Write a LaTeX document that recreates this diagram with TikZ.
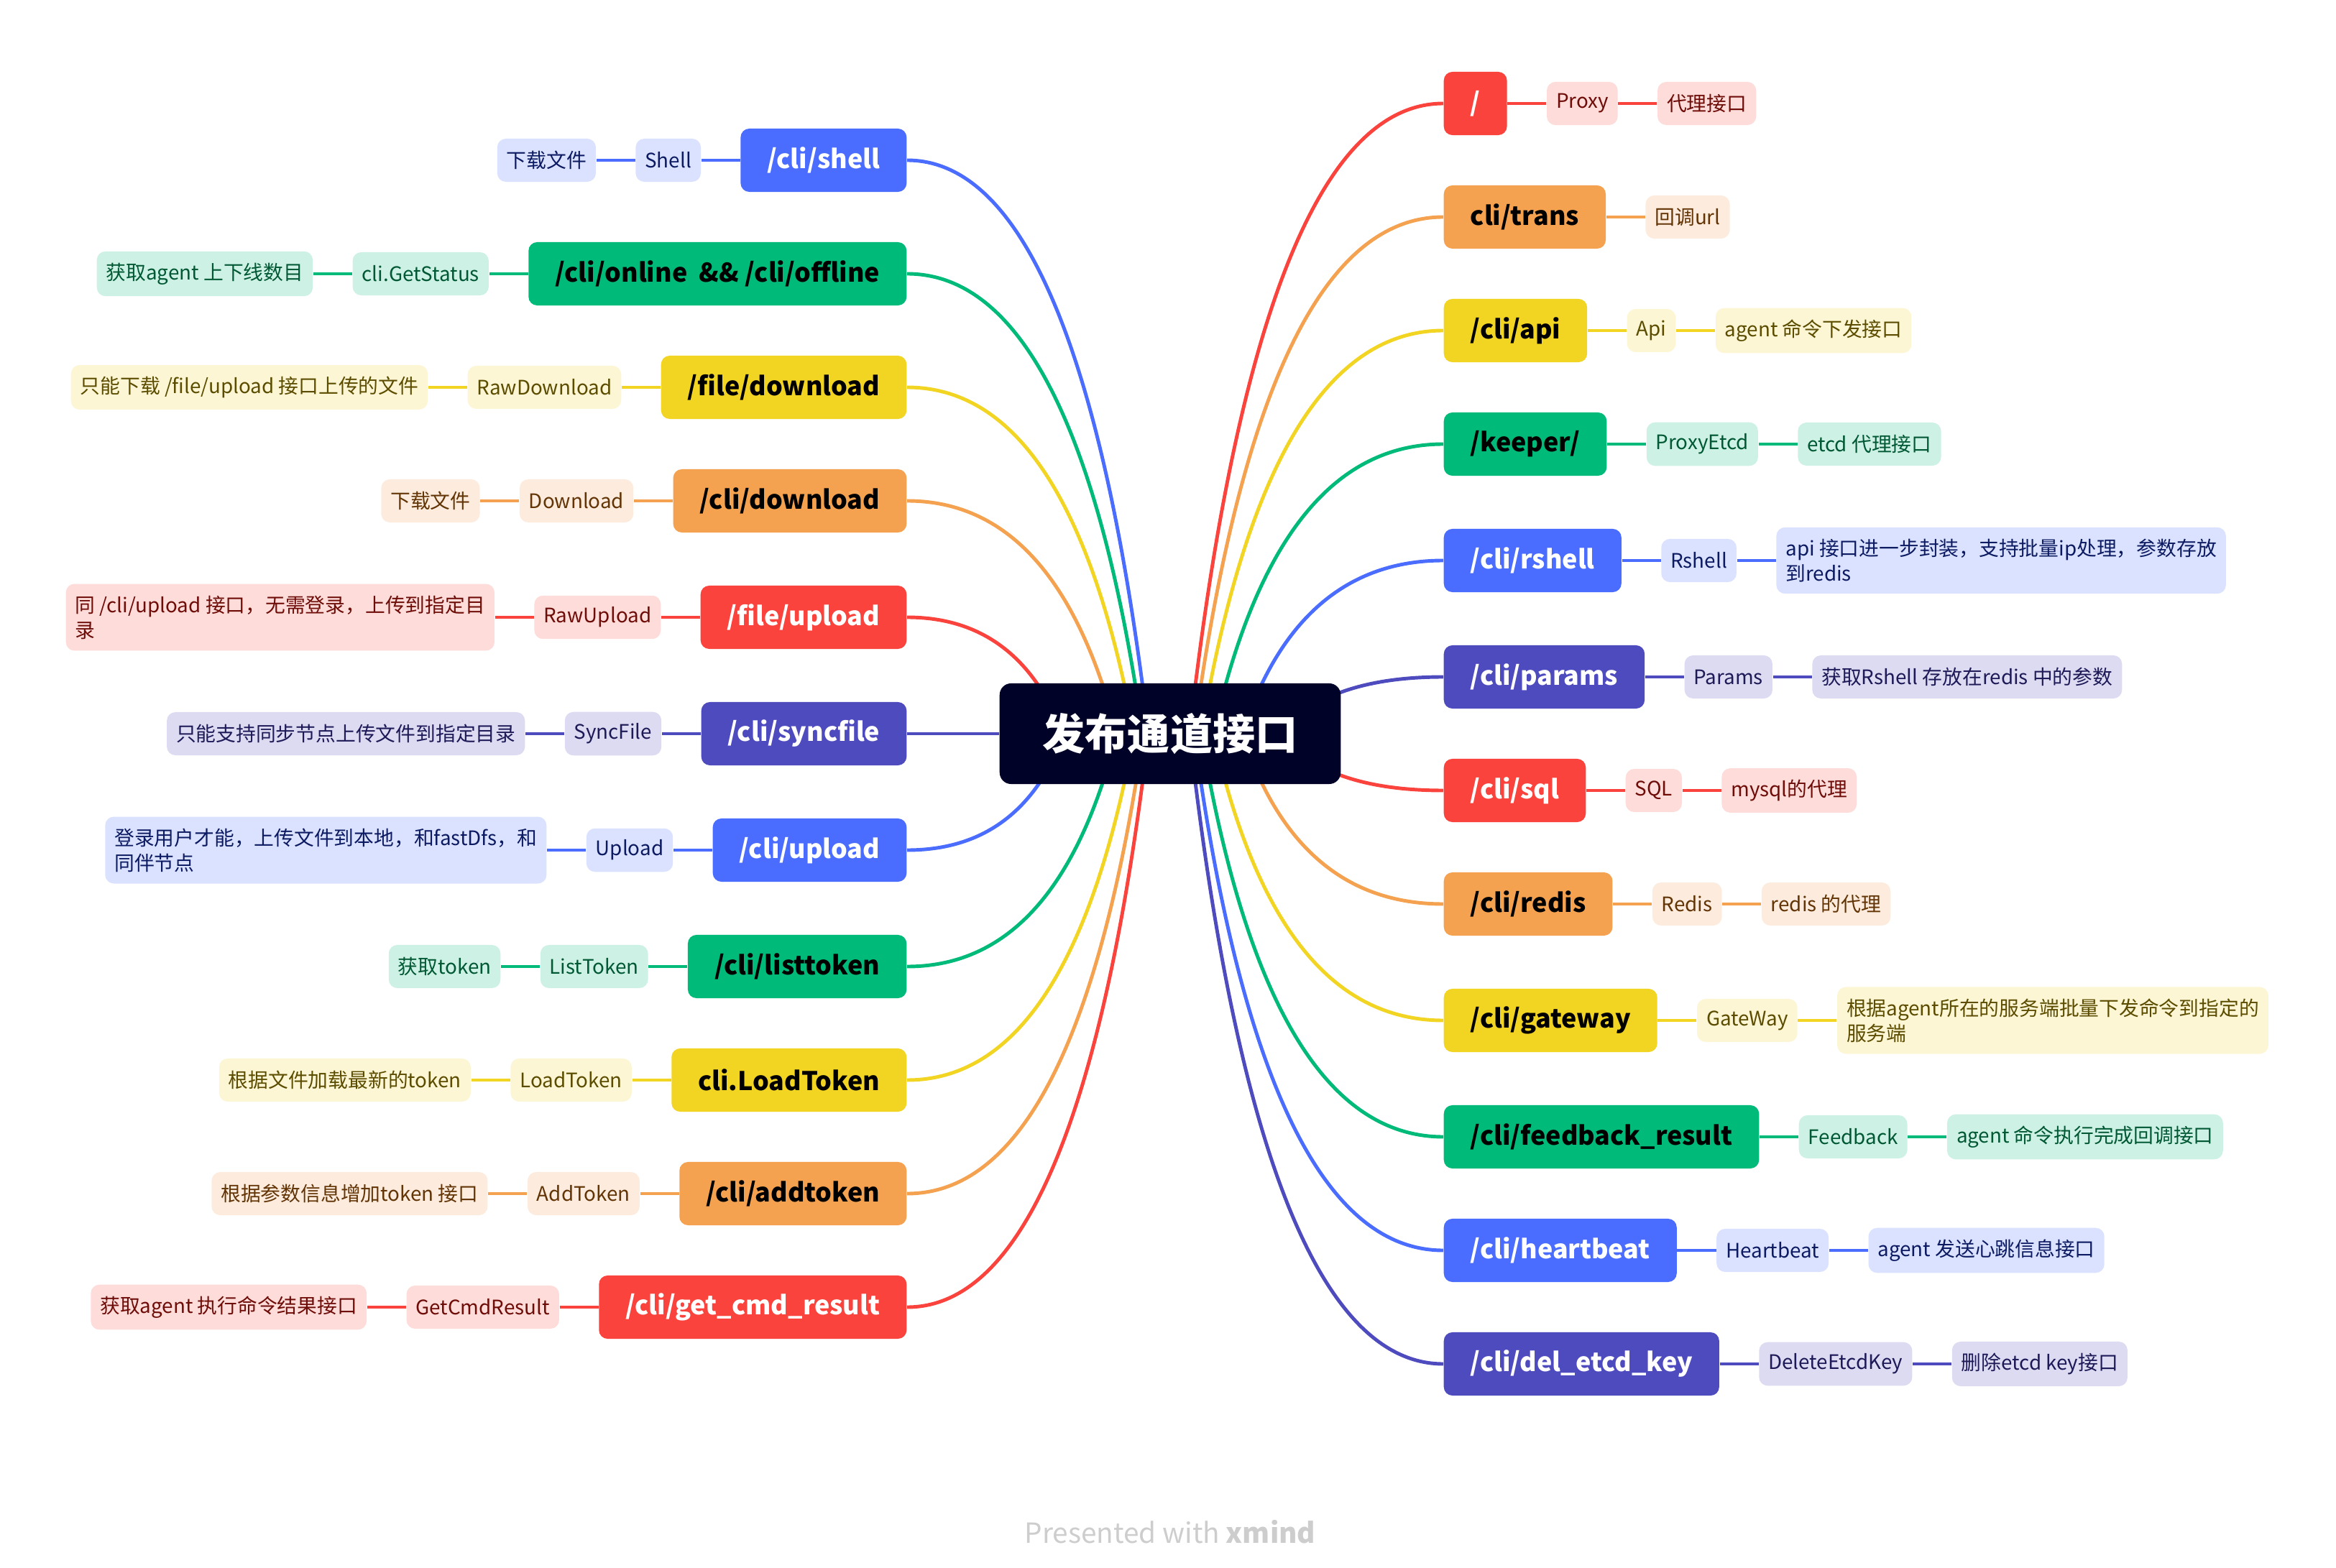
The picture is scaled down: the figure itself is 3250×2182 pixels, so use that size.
\documentclass[tikz,border=0pt]{standalone}
\usepackage{fontspec}
\setmainfont{Noto Sans CJK SC}
\usetikzlibrary{positioning,calc,backgrounds}
\definecolor{rootc}{RGB}{0,2,40}
\definecolor{cRed}{RGB}{250,67,60}
\definecolor{cRedL}{RGB}{253,220,218}
\definecolor{cRedT}{RGB}{110,12,8}
\definecolor{cOrange}{RGB}{245,162,80}
\definecolor{cOrangeL}{RGB}{253,236,221}
\definecolor{cOrangeT}{RGB}{98,52,6}
\definecolor{cYellow}{RGB}{242,212,35}
\definecolor{cYellowL}{RGB}{252,246,212}
\definecolor{cYellowT}{RGB}{92,76,0}
\definecolor{cGreen}{RGB}{0,186,122}
\definecolor{cGreenL}{RGB}{205,241,228}
\definecolor{cGreenT}{RGB}{0,88,52}
\definecolor{cBlue}{RGB}{74,108,255}
\definecolor{cBlueL}{RGB}{219,226,255}
\definecolor{cBlueT}{RGB}{12,26,98}
\definecolor{cIndigo}{RGB}{78,75,190}
\definecolor{cIndigoL}{RGB}{221,219,242}
\definecolor{cIndigoT}{RGB}{30,26,88}
\definecolor{footc}{RGB}{205,205,205}

\begin{document}
\begin{tikzpicture}[x=0.01cm, y=-0.01cm,
    root/.style={fill=rootc, text=white, rounded corners=0.16cm, minimum height=1.4cm, inner xsep=0.6cm, font=\fontsize{16.8}{20}\selectfont\bfseries},
    topic/.style={rounded corners=0.12cm, minimum height=0.88cm, inner xsep=0.37cm, font=\fontsize{10.2}{13}\selectfont\bfseries},
    topicL/.style={topic, anchor=east},
    topicR/.style={topic, anchor=west},
    leaf/.style={rounded corners=0.12cm, minimum height=0.6cm, inner xsep=0.13cm, inner ysep=0.16cm, align=left, font=\fontsize{7.9}{10}\selectfont},
    tRed/.style={fill=cRed, text=white},
    tOrange/.style={fill=cOrange, text=black},
    tYellow/.style={fill=cYellow, text=black},
    tGreen/.style={fill=cGreen, text=black},
    tBlue/.style={fill=cBlue, text=white},
    tIndigo/.style={fill=cIndigo, text=white},
    lRed/.style={leaf, fill=cRedL, text=cRedT},
    lOrange/.style={leaf, fill=cOrangeL, text=cOrangeT},
    lYellow/.style={leaf, fill=cYellowL, text=cYellowT},
    lGreen/.style={leaf, fill=cGreenL, text=cGreenT},
    lBlue/.style={leaf, fill=cBlueL, text=cBlueT},
    lIndigo/.style={leaf, fill=cIndigoL, text=cIndigoT},
    branch/.style={line width=1.4pt},
    twig/.style={line width=1.1pt}]

    \useasboundingbox (0,0) rectangle (3250,2182);

    % central topic
    \node[root] (root) at (1628,1021) {发布通道接口};

    % left side
    \node[topicL, tBlue] (shell) at (1262,223) {/cli/shell};
    \node[topicL, tGreen] (online) at (1262,381) {/cli/online\ \ \&\& /cli/offline};
    \node[topicL, tYellow] (fdown) at (1262,539) {/file/download};
    \node[topicL, tOrange] (cdown) at (1262,697) {/cli/download};
    \node[topicL, tRed] (fup) at (1262,859) {/file/upload};
    \node[topicL, tIndigo] (sync) at (1262,1021) {/cli/syncfile};
    \node[topicL, tBlue] (upload) at (1262,1183) {/cli/upload};
    \node[topicL, tGreen] (listtok) at (1262,1345) {/cli/listtoken};
    \node[topicL, tYellow] (loadtok) at (1262,1503) {cli.LoadToken};
    \node[topicL, tOrange] (addtok) at (1262,1661) {/cli/addtoken};
    \node[topicL, tRed] (getcmd) at (1262,1819) {/cli/get\_cmd\_result};

    \node[lBlue, left=0.54cm of shell] (shellK) {Shell};
    \node[lBlue, left=0.54cm of shellK] (shellD) {下载文件};
    \node[lGreen, left=0.54cm of online] (onlineK) {cli.GetStatus};
    \node[lGreen, left=0.54cm of onlineK] (onlineD) {获取agent 上下线数目};
    \node[lYellow, left=0.54cm of fdown] (fdownK) {RawDownload};
    \node[lYellow, left=0.54cm of fdownK] (fdownD) {只能下载 /file/upload 接口上传的文件};
    \node[lOrange, left=0.54cm of cdown] (cdownK) {Download};
    \node[lOrange, left=0.54cm of cdownK] (cdownD) {下载文件};
    \node[lRed, left=0.54cm of fup] (fupK) {RawUpload};
    \node[lRed, left=0.54cm of fupK] (fupD) {同 /cli/upload 接口，无需登录，上传到指定目\\录};
    \node[lIndigo, left=0.54cm of sync] (syncK) {SyncFile};
    \node[lIndigo, left=0.54cm of syncK] (syncD) {只能支持同步节点上传文件到指定目录};
    \node[lBlue, left=0.54cm of upload] (uploadK) {Upload};
    \node[lBlue, left=0.54cm of uploadK] (uploadD) {登录用户才能，上传文件到本地，和fastDfs，和\\同伴节点};
    \node[lGreen, left=0.54cm of listtok] (listtokK) {ListToken};
    \node[lGreen, left=0.54cm of listtokK] (listtokD) {获取token};
    \node[lYellow, left=0.54cm of loadtok] (loadtokK) {LoadToken};
    \node[lYellow, left=0.54cm of loadtokK] (loadtokD) {根据文件加载最新的token};
    \node[lOrange, left=0.54cm of addtok] (addtokK) {AddToken};
    \node[lOrange, left=0.54cm of addtokK] (addtokD) {根据参数信息增加token 接口};
    \node[lRed, left=0.54cm of getcmd] (getcmdK) {GetCmdResult};
    \node[lRed, left=0.54cm of getcmdK] (getcmdD) {获取agent 执行命令结果接口};

    % right side
    \node[topicR, tRed] (proxy) at (2008,144) {/};
    \node[topicR, tOrange] (trans) at (2008,302) {cli/trans};
    \node[topicR, tYellow] (api) at (2008,460) {/cli/api};
    \node[topicR, tGreen] (keeper) at (2008,618) {/keeper/};
    \node[topicR, tBlue] (rshell) at (2008,780) {/cli/rshell};
    \node[topicR, tIndigo] (params) at (2008,942) {/cli/params};
    \node[topicR, tRed] (sql) at (2008,1100) {/cli/sql};
    \node[topicR, tOrange] (redis) at (2008,1258) {/cli/redis};
    \node[topicR, tYellow] (gateway) at (2008,1420) {/cli/gateway};
    \node[topicR, tGreen] (feedback) at (2008,1582) {/cli/feedback\_result};
    \node[topicR, tBlue] (heart) at (2008,1740) {/cli/heartbeat};
    \node[topicR, tIndigo] (delkey) at (2008,1898) {/cli/del\_etcd\_key};

    \node[lRed, right=0.54cm of proxy] (proxyK) {Proxy};
    \node[lRed, right=0.54cm of proxyK] (proxyD) {代理接口};
    \node[lOrange, right=0.54cm of trans] (transD) {回调url};
    \node[lYellow, right=0.54cm of api] (apiK) {Api};
    \node[lYellow, right=0.54cm of apiK] (apiD) {agent 命令下发接口};
    \node[lGreen, right=0.54cm of keeper] (keeperK) {ProxyEtcd};
    \node[lGreen, right=0.54cm of keeperK] (keeperD) {etcd 代理接口};
    \node[lBlue, right=0.54cm of rshell] (rshellK) {Rshell};
    \node[lBlue, right=0.54cm of rshellK] (rshellD) {api 接口进一步封装，支持批量ip处理，参数存放\\到redis};
    \node[lIndigo, right=0.54cm of params] (paramsK) {Params};
    \node[lIndigo, right=0.54cm of paramsK] (paramsD) {获取Rshell 存放在redis 中的参数};
    \node[lRed, right=0.54cm of sql] (sqlK) {SQL};
    \node[lRed, right=0.54cm of sqlK] (sqlD) {mysql的代理};
    \node[lOrange, right=0.54cm of redis] (redisK) {Redis};
    \node[lOrange, right=0.54cm of redisK] (redisD) {redis 的代理};
    \node[lYellow, right=0.54cm of gateway] (gatewayK) {GateWay};
    \node[lYellow, right=0.54cm of gatewayK] (gatewayD) {根据agent所在的服务端批量下发命令到指定的\\服务端};
    \node[lGreen, right=0.54cm of feedback] (feedbackK) {Feedback};
    \node[lGreen, right=0.54cm of feedbackK] (feedbackD) {agent 命令执行完成回调接口};
    \node[lBlue, right=0.54cm of heart] (heartK) {Heartbeat};
    \node[lBlue, right=0.54cm of heartK] (heartD) {agent 发送心跳信息接口};
    \node[lIndigo, right=0.54cm of delkey] (delkeyK) {DeleteEtcdKey};
    \node[lIndigo, right=0.54cm of delkeyK] (delkeyD) {删除etcd key接口};

    \node[font=\fontsize{11}{13}\selectfont, text=footc] (foot) at (1628,2132) {Presented with \textbf{xmind}};

    \begin{scope}[on background layer]
    % branches from the central topic
    \draw[branch, cBlue] ($(root.center)+(-30,0)$) .. controls +(-63,-532) and +(161,0) .. (shell.east);
    \draw[branch, cGreen] ($(root.center)+(-38,0)$) .. controls +(-61,-426) and +(157,0) .. (online.east);
    \draw[branch, cYellow] ($(root.center)+(-50,0)$) .. controls +(-59,-321) and +(152,0) .. (fdown.east);
    \draw[branch, cOrange] ($(root.center)+(-74,0)$) .. controls +(-55,-215) and +(140,0) .. (cdown.east);
    \draw[branch, cRed] ($(root.center)+(-149,0)$) .. controls +(-41,-107) and +(104,0) .. (fup.east);
    \draw[branch, cIndigo] (root.west) -- (sync.east);
    \draw[branch, cBlue] ($(root.center)+(-147,0)$) .. controls +(-41,109) and +(105,0) .. (upload.east);
    \draw[branch, cGreen] ($(root.center)+(-74,0)$) .. controls +(-55,217) and +(140,0) .. (listtok.east);
    \draw[branch, cYellow] ($(root.center)+(-50,0)$) .. controls +(-59,322) and +(152,0) .. (loadtok.east);
    \draw[branch, cOrange] ($(root.center)+(-37,0)$) .. controls +(-62,428) and +(158,0) .. (addtok.east);
    \draw[branch, cRed] ($(root.center)+(-30,0)$) .. controls +(-63,533) and +(161,0) .. (getcmd.east);

    \draw[branch, cRed] ($(root.center)+(27,0)$) .. controls +(66,-584) and +(-169,0) .. (proxy.west);
    \draw[branch, cOrange] ($(root.center)+(33,0)$) .. controls +(65,-479) and +(-167,0) .. (trans.west);
    \draw[branch, cYellow] ($(root.center)+(43,0)$) .. controls +(63,-374) and +(-162,0) .. (api.west);
    \draw[branch, cGreen] ($(root.center)+(60,0)$) .. controls +(60,-268) and +(-154,0) .. (keeper.west);
    \draw[branch, cBlue] ($(root.center)+(100,0)$) .. controls +(52,-160) and +(-134,0) .. (rshell.west);
    \draw[branch, cIndigo] ($(root.center)+(152,0)$) .. controls +(43,-52) and +(-109,0) .. (params.west);
    \draw[branch, cRed] ($(root.center)+(152,0)$) .. controls +(43,53) and +(-109,0) .. (sql.west);
    \draw[branch, cOrange] ($(root.center)+(100,0)$) .. controls +(52,159) and +(-134,0) .. (redis.west);
    \draw[branch, cYellow] ($(root.center)+(60,0)$) .. controls +(60,267) and +(-154,0) .. (gateway.west);
    \draw[branch, cGreen] ($(root.center)+(43,0)$) .. controls +(63,375) and +(-162,0) .. (feedback.west);
    \draw[branch, cBlue] ($(root.center)+(33,0)$) .. controls +(65,480) and +(-167,0) .. (heart.west);
    \draw[branch, cIndigo] ($(root.center)+(27,0)$) .. controls +(66,586) and +(-169,0) .. (delkey.west);

    % links between topic and details
    \draw[twig, cBlue] (shell) -- (shellK) (shellK) -- (shellD);
    \draw[twig, cGreen] (online) -- (onlineK) (onlineK) -- (onlineD);
    \draw[twig, cYellow] (fdown) -- (fdownK) (fdownK) -- (fdownD);
    \draw[twig, cOrange] (cdown) -- (cdownK) (cdownK) -- (cdownD);
    \draw[twig, cRed] (fup) -- (fupK) (fupK) -- (fupD);
    \draw[twig, cIndigo] (sync) -- (syncK) (syncK) -- (syncD);
    \draw[twig, cBlue] (upload) -- (uploadK) (uploadK) -- (uploadD);
    \draw[twig, cGreen] (listtok) -- (listtokK) (listtokK) -- (listtokD);
    \draw[twig, cYellow] (loadtok) -- (loadtokK) (loadtokK) -- (loadtokD);
    \draw[twig, cOrange] (addtok) -- (addtokK) (addtokK) -- (addtokD);
    \draw[twig, cRed] (getcmd) -- (getcmdK) (getcmdK) -- (getcmdD);

    \draw[twig, cRed] (proxy) -- (proxyK) (proxyK) -- (proxyD);
    \draw[twig, cOrange] (trans) -- (transD);
    \draw[twig, cYellow] (api) -- (apiK) (apiK) -- (apiD);
    \draw[twig, cGreen] (keeper) -- (keeperK) (keeperK) -- (keeperD);
    \draw[twig, cBlue] (rshell) -- (rshellK) (rshellK) -- (rshellD);
    \draw[twig, cIndigo] (params) -- (paramsK) (paramsK) -- (paramsD);
    \draw[twig, cRed] (sql) -- (sqlK) (sqlK) -- (sqlD);
    \draw[twig, cOrange] (redis) -- (redisK) (redisK) -- (redisD);
    \draw[twig, cYellow] (gateway) -- (gatewayK) (gatewayK) -- (gatewayD);
    \draw[twig, cGreen] (feedback) -- (feedbackK) (feedbackK) -- (feedbackD);
    \draw[twig, cBlue] (heart) -- (heartK) (heartK) -- (heartD);
    \draw[twig, cIndigo] (delkey) -- (delkeyK) (delkeyK) -- (delkeyD);
    \end{scope}
\end{tikzpicture}
\end{document}
